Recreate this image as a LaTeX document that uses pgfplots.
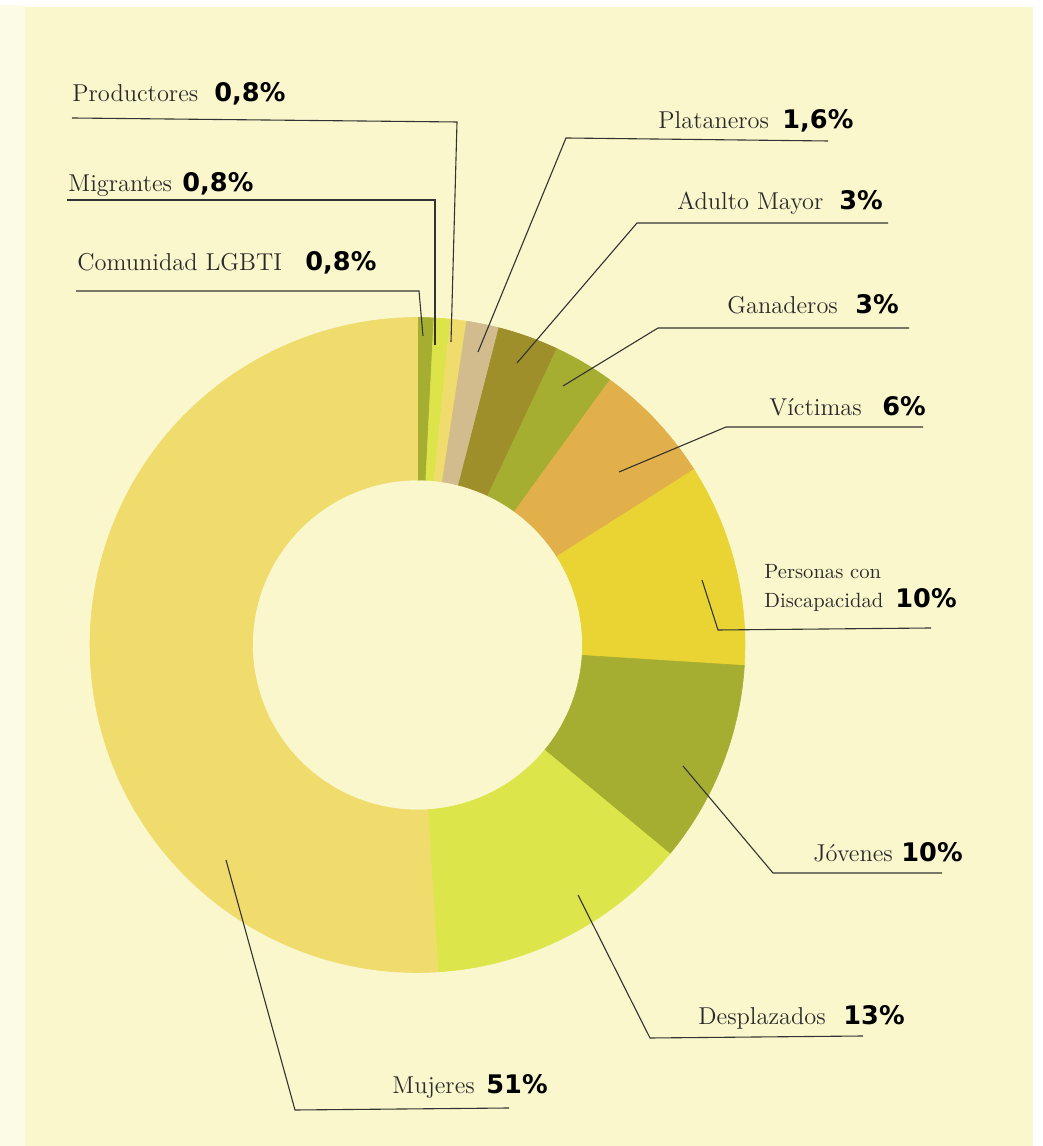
\documentclass[border=0pt]{standalone}
\usepackage{fontspec}
\usepackage{pgfplots}
\usepackage{pgfplotstable}
\pgfplotsset{compat=1.18}
\newfontfamily\pctfont{DejaVu Sans}
\definecolor{bgmain}{HTML}{FAF7CD}
\definecolor{bgleft}{HTML}{FCFBE5}
\definecolor{cLGBTI}{HTML}{A6AE32}
\definecolor{cMig}{HTML}{DCE44A}
\definecolor{cProd}{HTML}{F0DC6C}
\definecolor{cPlat}{HTML}{D2BC8E}
\definecolor{cAdul}{HTML}{9E8F2B}
\definecolor{cGan}{HTML}{A6AE32}
\definecolor{cVic}{HTML}{E2B04A}
\definecolor{cPers}{HTML}{EAD434}
\definecolor{cJov}{HTML}{A6AE32}
\definecolor{cDesp}{HTML}{DCE64A}
\definecolor{cMuj}{HTML}{F0DC6C}
\definecolor{txt}{HTML}{2A2A2A}
\definecolor{lead}{HTML}{333333}

\pgfplotstableread[col sep=comma]{
grupo,valor,color
Comunidad LGBTI,0.8,cLGBTI
Migrantes,0.8,cMig
Productores,0.8,cProd
Plataneros,1.6,cPlat
Adulto Mayor,3,cAdul
Ganaderos,3,cGan
Victimas,6,cVic
Personas con Discapacidad,10,cPers
Jovenes,10,cJov
Desplazados,13,cDesp
Mujeres,51,cMuj
}\datos

\newcommand\lab[3]{\node[anchor=base west,inner sep=0pt,text=txt,font=\fontsize{12.2}{14}\selectfont] at (axis cs:#1,#2) {#3};}
\newcommand\pct[3]{\node[anchor=base west,inner sep=0pt,text=black,font=\pctfont\bfseries\fontsize{12.8}{14}\selectfont] at (axis cs:#1,#2) {#3};}

\begin{document}
\begin{tikzpicture}
\begin{axis}[
  x=0.5pt, y=0.5pt,
  xmin=0, xmax=1043, ymin=0, ymax=1146,
  hide axis, clip=false,
]
% background
\fill[white] (axis cs:0,0) rectangle (axis cs:1043,1146);
\fill[bgleft] (axis cs:0,0) rectangle (axis cs:25,1141);
\fill[bgmain] (axis cs:25,0) rectangle (axis cs:1033,1139);

% donut
\def\Rout{163.75pt}
\def\Rin{82.5pt}
\def\Rw{81.25pt}
\pgfplotstablegetrowsof{\datos}
\pgfmathtruncatemacro\N{\pgfplotsretval-1}
\def\cum{0}
\pgfplotsforeachungrouped \i in {0,...,\N}{%
  \pgfplotstablegetelem{\i}{valor}\of\datos \let\v\pgfplotsretval
  \pgfplotstablegetelem{\i}{color}\of\datos \let\c\pgfplotsretval
  \pgfmathsetmacro\aS{90-3.6*\cum}%
  \pgfmathsetmacro\cum{\cum+\v}%
  \pgfmathsetmacro\aE{90-3.6*\cum}%
  \edef\temp{\noexpand\fill[\c, draw=\c, line width=0.3pt] (axis cs:417.5,501) ++(\aS:\Rout) arc[start angle=\aS, end angle=\aE, radius=\Rout] -- ++(\aE:-\Rw) arc[start angle=\aE, end angle=\aS, radius=\Rin] -- cycle;}%
  \temp
}

% leader lines
\begin{scope}[lead, line width=0.55pt]
\draw (axis cs:451,804) -- (axis cs:457,1024) -- (axis cs:72,1028);
\draw (axis cs:435,801) -- (axis cs:435,946) -- (axis cs:67,946);
\draw (axis cs:423,810) -- (axis cs:419,855) -- (axis cs:76,855);
\draw (axis cs:478,794) -- (axis cs:566,1008) -- (axis cs:828,1005);
\draw (axis cs:517,783) -- (axis cs:637,923) -- (axis cs:888,923);
\draw (axis cs:563,760) -- (axis cs:658,818) -- (axis cs:909,818);
\draw (axis cs:619,674) -- (axis cs:726,719) -- (axis cs:923,719);
\draw (axis cs:702,566) -- (axis cs:718,516) -- (axis cs:931,518);
\draw (axis cs:683,380) -- (axis cs:773,273) -- (axis cs:942,273);
\draw (axis cs:578,251) -- (axis cs:650,108) -- (axis cs:863,110);
\draw (axis cs:226,286) -- (axis cs:295,36) -- (axis cs:509,38);
\end{scope}

% labels
\lab{72}{1044}{Productores}\pct{214}{1044}{0,8\%}
\lab{68}{954}{Migrantes}\pct{182}{954}{0,8\%}
\lab{77}{875}{Comunidad LGBTI}\pct{305}{875}{0,8\%}
\lab{658}{1017}{Plataneros}\pct{782}{1017}{1,6\%}
\lab{677}{936}{Adulto Mayor}\pct{839}{936}{3\%}
\lab{727}{832}{Ganaderos}\pct{855}{832}{3\%}
\lab{769}{730}{Víctimas}\pct{882}{730}{6\%}
\node[anchor=base west,inner sep=0pt,text=txt,font=\fontsize{10.3}{12}\selectfont] at (axis cs:764,567) {Personas con};
\node[anchor=base west,inner sep=0pt,text=txt,font=\fontsize{10.3}{12}\selectfont] at (axis cs:764,538) {Discapacidad};
\pct{895}{538}{10\%}
\lab{813}{284}{Jóvenes}\pct{901}{284}{10\%}
\lab{698}{121}{Desplazados}\pct{843}{121}{13\%}
\lab{392}{53}{Mujeres}\pct{486}{53}{51\%}
\end{axis}
\end{tikzpicture}
\end{document}
